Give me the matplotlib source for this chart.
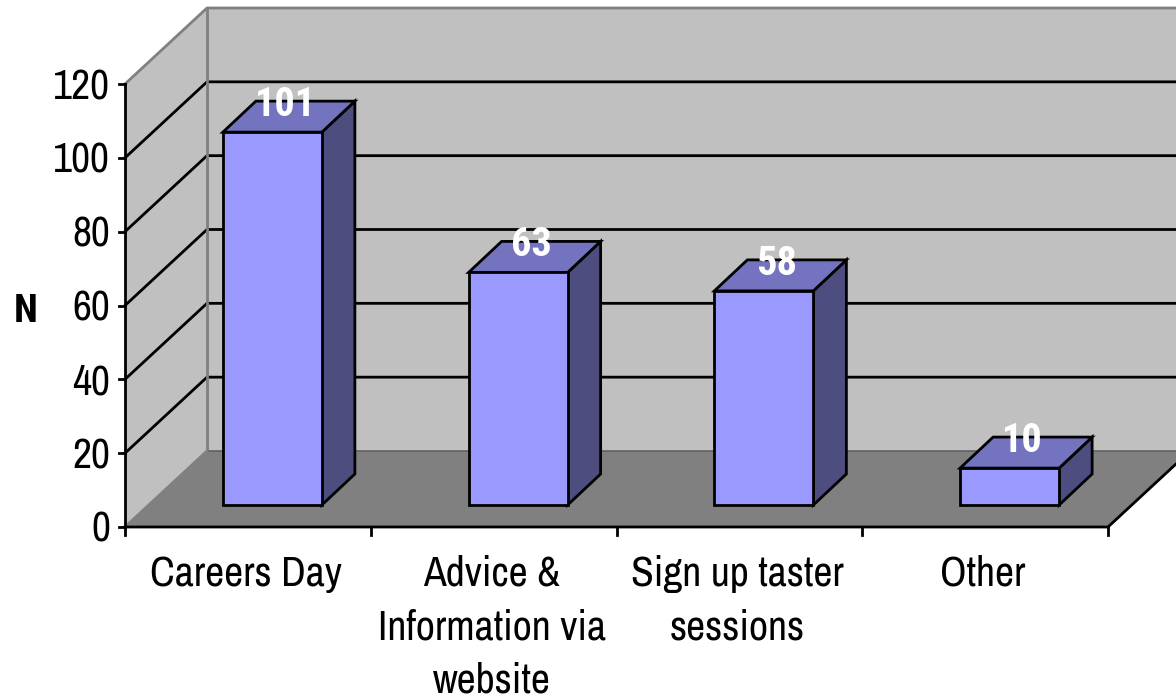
import matplotlib
matplotlib.use('Agg')
import matplotlib.pyplot as plt
from matplotlib.patches import Polygon

# Data
categories = ['Careers Day', 'Advice &\nInformation via\nwebsite', 'Sign up taster\nsessions', 'Other']
values = [101, 63, 58, 10]
y_ticks = [0, 20, 40, 60, 80, 100, 120]

plt.rcParams['font.family'] = ['Archivo Narrow', 'Liberation Sans', 'DejaVu Sans']
bold_font = ['Roboto Condensed', 'Archivo Narrow', 'Liberation Sans']

# Oblique projection, everything in image pixels
x0, x1 = 125, 1108
y0 = 527
per_unit = 443 / 120
dx, dy = 82, -76
line_w = 2.0


def py(v):
    return y0 - v * per_unit


fig = plt.figure(figsize=(11.76, 6.99), dpi=100)
ax = fig.add_axes([0, 0, 1, 1])
ax.set_xlim(0, 1176)
ax.set_ylim(699, 0)
ax.axis('off')

# Walls and floor
top = py(y_ticks[-1])
ax.add_patch(Polygon([(x0, y0), (x0 + dx, y0 + dy), (x1 + dx, y0 + dy), (x1, y0)],
                     fc='#808080', ec='none', zorder=1))
ax.add_patch(Polygon([(x0, y0), (x0 + dx, y0 + dy), (x0 + dx, top + dy), (x0, top)],
                     fc='#c0c0c0', ec='none', zorder=1))
ax.add_patch(Polygon([(x0 + dx, y0 + dy), (x1 + dx, y0 + dy), (x1 + dx, top + dy), (x0 + dx, top + dy)],
                     fc='#c0c0c0', ec='none', zorder=1))

# Gridlines
for v in y_ticks[1:-1]:
    ax.plot([x0, x0 + dx, x1 + dx], [py(v), py(v) + dy, py(v) + dy], color='black', lw=line_w, zorder=2)

# Grey wall edges
ax.plot([x0, x0 + dx, x1 + dx], [top, top + dy, top + dy], color='#808080', lw=line_w, zorder=2)
ax.plot([x0 + dx, x0 + dx], [top + dy, y0 + dy], color='#808080', lw=line_w, zorder=2)
ax.plot([x0 + dx, x1 + dx], [y0 + dy, y0 + dy], color='#606060', lw=1.2, zorder=2)
ax.plot([x0, x0 + dx], [y0, y0 + dy], color='#808080', lw=line_w, zorder=2)

# Floor front edges
ax.plot([x0, x1, x1 + dx], [y0, y0, y0 + dy], color='black', lw=line_w, zorder=3)

# Y axis
ax.plot([x0, x0], [top, y0], color='black', lw=line_w, zorder=3)
for v in y_ticks:
    ax.plot([x0 - 6, x0], [py(v), py(v)], color='black', lw=line_w, zorder=3)
    ax.text(x0 - 15, py(v) + 3, str(v), ha='right', va='center', fontsize=30, color='black')
ax.text(26, 311, 'N', ha='center', va='center', fontsize=28, fontweight='bold',
        family=bold_font, color='black')

# X axis ticks and labels
n = len(categories)
step = (x1 - x0) / n
for i in range(n + 1):
    ax.plot([x0 + i * step] * 2, [y0, y0 + 8], color='black', lw=line_w, zorder=3)
for i, label in enumerate(categories):
    ax.text(x0 + (i + 0.5) * step - 2, 555, label, ha='center', va='top', fontsize=30,
            linespacing=1.49, color='black')

# Bars
bar_w = 99
bar_dx, bar_dy = 33, -31
base = y0 - 22
for i, v in enumerate(values):
    left = x0 + (i + 0.5) * step + 24.5 - bar_w / 2
    right = left + bar_w
    t = base - v * per_unit
    ax.add_patch(Polygon([(right, base), (right + bar_dx, base + bar_dy),
                          (right + bar_dx, t + bar_dy), (right, t)],
                         fc='#4d4d80', ec='black', lw=line_w, zorder=4, joinstyle='miter'))
    ax.add_patch(Polygon([(left, t), (left + bar_dx, t + bar_dy),
                          (right + bar_dx, t + bar_dy), (right, t)],
                         fc='#7373bf', ec='black', lw=line_w, zorder=4, joinstyle='miter'))
    ax.add_patch(Polygon([(left, base), (right, base), (right, t), (left, t)],
                         fc='#9999ff', ec='black', lw=line_w, zorder=5, joinstyle='miter'))
    ax.text(left + bar_w / 2 + 13, t - 27, str(v), ha='center', va='center', fontsize=29,
            fontweight='bold', family=bold_font, color='white', zorder=6)

fig.savefig('out.png', dpi=100)
